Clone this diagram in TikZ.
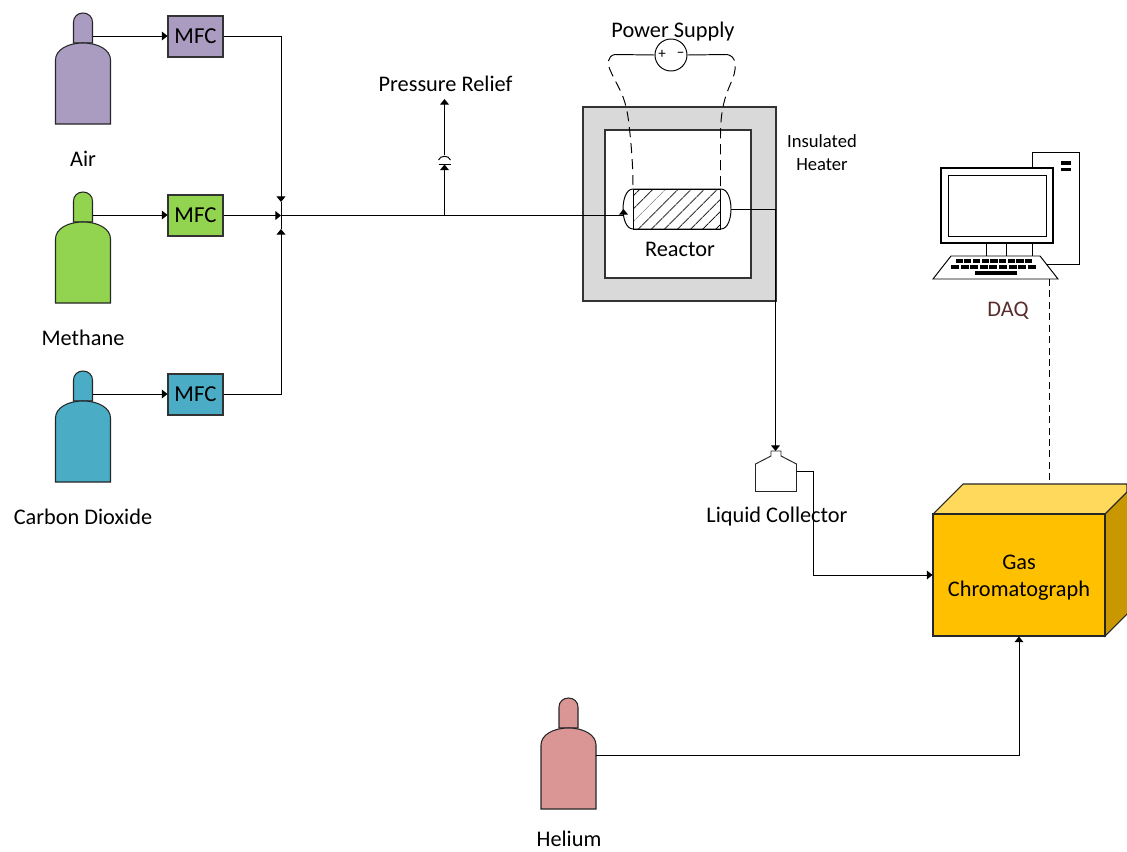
\documentclass[tikz,border=0pt]{standalone}
\usepackage{fontspec}
\setmainfont{Carlito}
\usepackage{tikz}
\usetikzlibrary{arrows.meta,calc,positioning,patterns.meta}
\definecolor{gasair}{RGB}{170,155,192}
\definecolor{gasmethane}{RGB}{146,212,80}
\definecolor{gascarbon}{RGB}{75,172,198}
\definecolor{gashelium}{RGB}{217,150,148}
\definecolor{heatergray}{RGB}{217,217,217}
\definecolor{gcfront}{RGB}{255,192,0}
\definecolor{gctop}{RGB}{255,217,92}
\definecolor{gcside}{RGB}{201,151,0}
\definecolor{daqbrown}{RGB}{90,45,45}
\tikzset{
  pipe/.style={line width=0.55pt,black},
  mfcbox/.style={draw=black!80,line width=0.6pt,minimum width=1.1cm,minimum height=0.82cm,inner sep=0pt,font=\fontsize{13}{15}\selectfont},
  lbl/.style={inner sep=0pt,font=\fontsize{12.7}{14}\selectfont,align=center},
  smalllbl/.style={inner sep=0pt,font=\fontsize{10.6}{13}\selectfont,align=center},
  wire/.style={pipe,dash pattern=on 5.7pt off 3.4pt}
}
% butla: nazwa, x, y, kolor
\newcommand{\gasbottle}[4]{
  \begin{scope}[shift={(#2,#3)}]
    \draw[draw=black!85,line width=0.6pt,fill=#4] (18,30) -- (18,9) .. controls (18,4) and (22,0) .. (27.5,0)
      .. controls (33,0) and (37,4) .. (37,9) -- (37,30) -- cycle;
    \draw[draw=black!85,line width=0.6pt,fill=#4] (0,111) -- (0,47) .. controls (0,37) and (12,30) .. (27.5,30)
      .. controls (43,30) and (55,37) .. (55,47) -- (55,111) -- cycle;
    \coordinate (#1 port) at (37,23);
    \coordinate (#1 side) at (55,57);
  \end{scope}
}

\begin{document}
\begin{tikzpicture}[>={Stealth[length=3.2pt,width=5pt,inset=0pt]},x=0.2mm,y=-0.2mm]
  \useasboundingbox (0,0) rectangle (1127,851);

  %-------------------- Gas feed --------------------
  \foreach \gas/\ypos/\col/\name in {air/13/gasair/Air,methane/192/gasmethane/Methane,carbon/371/gascarbon/Carbon Dioxide}{
    \gasbottle{\gas bottle}{55.5}{\ypos}{\col}
    \node[mfcbox,fill=\col] (\gas mfc) at (195.5,\ypos+23.5) {MFC};
    \node[lbl] (\gas label) at (83,\ypos+145.5) {\name};
    \draw[pipe,->] (\gas bottle port) -- (\gas bottle port -| \gas mfc.west);
  }

  \coordinate (junction) at (281,215.5);
  \coordinate (airtip) at (281,202);
  \coordinate (carbontip) at (281,229);

  \draw[pipe,->] (airmfc.east) -| (airtip);
  \draw[pipe,->] (carbonmfc.east) -| (carbontip);
  \draw[pipe] (airtip) -- (carbontip);
  \draw[pipe,->] (methanemfc.east) -- (junction);

  %-------------------- Pressure relief --------------------
  \coordinate (relieftee) at (444.5,215.5);
  \coordinate (valvelow) at (444.5,164.5);
  \coordinate (valvehigh) at (444.5,155);
  \node[lbl] (relieflabel) at (445.5,84) {Pressure Relief};
  \coordinate (relieftip) at (444.5,99);
  \draw[pipe,->] (relieftee) -- (valvelow);
  \draw[pipe] ($(valvelow)+(-6,0)$) -- ($(valvelow)+(6,0)$);
  \draw[pipe] ($(valvehigh)+(-6,5)$) .. controls ($(valvehigh)+(-4,0)$) and ($(valvehigh)+(4,0)$) .. ($(valvehigh)+(6,5)$);
  \draw[pipe,->] (valvehigh) -- (relieftip);

  %-------------------- Heater and reactor --------------------
  \draw[draw=black!80,line width=0.6pt,fill=heatergray] (583,107) rectangle (776,301);
  \draw[draw=black!80,line width=0.6pt,fill=white] (605,130) rectangle (751,278);
  \node[smalllbl] (heaterlabel) at (822,153) {Insulated\\Heater};

  \draw[pipe,fill=white] (633,189) .. controls (626,189) and (623,200) .. (623,209)
    .. controls (623,218) and (626,229) .. (633,229) -- (721,229)
    .. controls (728,229) and (731,218) .. (731,209)
    .. controls (731,200) and (728,189) .. (721,189) -- cycle;
  \draw[pipe,pattern={Lines[angle=45,distance=5.4pt,line width=0.55pt]},pattern color=black] (633,189) rectangle (720.5,229);
  \node[lbl] (reactorlabel) at (680,249.5) {Reactor};

  \coordinate (reactorin) at (623.5,209);
  \coordinate (reactorout) at (731,209.5);
  \draw[pipe] (junction) -- (relieftee);
  \draw[pipe,->] (relieftee) -| (reactorin);

  %-------------------- Power supply --------------------
  \node[draw,circle,line width=0.55pt,minimum size=0.64cm,inner sep=0pt] (supply) at (671,55) {};
  \node[inner sep=0pt,font=\fontsize{8.5}{9}\selectfont] (supplyplus) at (662,54.5) {+};
  \node[inner sep=0pt,font=\fontsize{8.5}{9}\selectfont] (supplyminus) at (680.5,54.5) {−};
  \node[lbl] (supplylabel) at (673,32) {Power Supply};
  \coordinate (wireleft) at (615,54.5);
  \coordinate (wireright) at (727,54.5);
  \draw[pipe] (supply.west) -- (wireleft);
  \draw[pipe] (supply.east) -- (wireright);
  \draw[wire] (wireleft) .. controls (607,56) and (607,64) .. (611,72)
    .. controls (618,88) and (626,95) .. (629,125) .. controls (632,150) and (633,170) .. (633,189);
  \draw[wire] (wireright) .. controls (736,56) and (737,66) .. (733,78)
    .. controls (727,92) and (720.5,105) .. (720.5,135) -- (720.5,189);

  %-------------------- Liquid collector --------------------
  \draw[pipe,draw=black!85,fill=white] (755.5,491.5) -- (755.5,464) -- (771,456) -- (771,451) -- (781,451) -- (781,456)
    -- (796.5,464) -- (796.5,491.5) -- cycle;
  \coordinate (collectorin) at (775.5,451);
  \coordinate (collectorout) at (796.5,471.5);
  \node[lbl] (collectorlabel) at (777,516.5) {Liquid Collector};
  \draw[pipe] (reactorout) -- (775.5,209.5);
  \draw[pipe,->] (775.5,209.5) -- (collectorin);

  %-------------------- Gas chromatograph --------------------
  \draw[draw=black!85,line width=0.6pt,fill=gctop] (933,514) -- (963,484) -- (1127,484) -- (1127,492) -- (1105,514) -- cycle;
  \draw[draw=black!85,line width=0.6pt,fill=gcside] (1127,492) -- (1105,514) -- (1105,636) -- (1127,614);
  \node[draw=black!85,line width=0.6pt,fill=gcfront,minimum width=3.44cm,minimum height=2.44cm,inner sep=0pt] (chromatograph) at (1019,575) {};
  \node[inner sep=0pt,font=\fontsize{12.7}{15.4}\selectfont,align=center] (chromlabel) at (1019,577.5) {Gas\\Chromatograph};
  \draw[pipe,->] (collectorout) -- (813,471.5) |- (chromatograph.west);

  \gasbottle{helium}{541}{698}{gashelium}
  \node[inner sep=0pt,font=\fontsize{12.7}{14}\selectfont] (heliumlabel) at (569,839) {Helium};
  \draw[pipe,->] (helium side) -| (chromatograph.south);

  %-------------------- DAQ --------------------
  \draw[pipe,fill=white] (1032,152) rectangle (1079,264);
  \fill (1061,161) rectangle (1071,164.5);
  \fill (1061,167.5) rectangle (1071,171);
  \draw[pipe,fill=white] (986,243) rectangle (1006,256);
  \draw[pipe] (1006,256) -- (1032,256);
  \draw[line width=0.65pt,fill=white] (941,168) rectangle (1053,243);
  \draw[pipe,fill=white] (948,175) rectangle (1046,236);
  \draw[pipe,fill=white] (951,256) -- (1040,256) -- (1058,279) -- (933,279) -- cycle;
  \foreach \k in {0,...,8}{
    \fill ({955.5+\k*8.7},259) rectangle ++(7.2,4);
    \fill ({951+\k*9.6},265) rectangle ++(8,4);
  }
  \fill (975,271) rectangle (1017,275);
  \coordinate (computerout) at (1049.5,279);
  \node[lbl,text=daqbrown] (daqlabel) at (1008,311) {DAQ};
  \draw[pipe,dash pattern=on 4pt off 2.5pt] (computerout) -- (1049.5,484);
\end{tikzpicture}
\end{document}
